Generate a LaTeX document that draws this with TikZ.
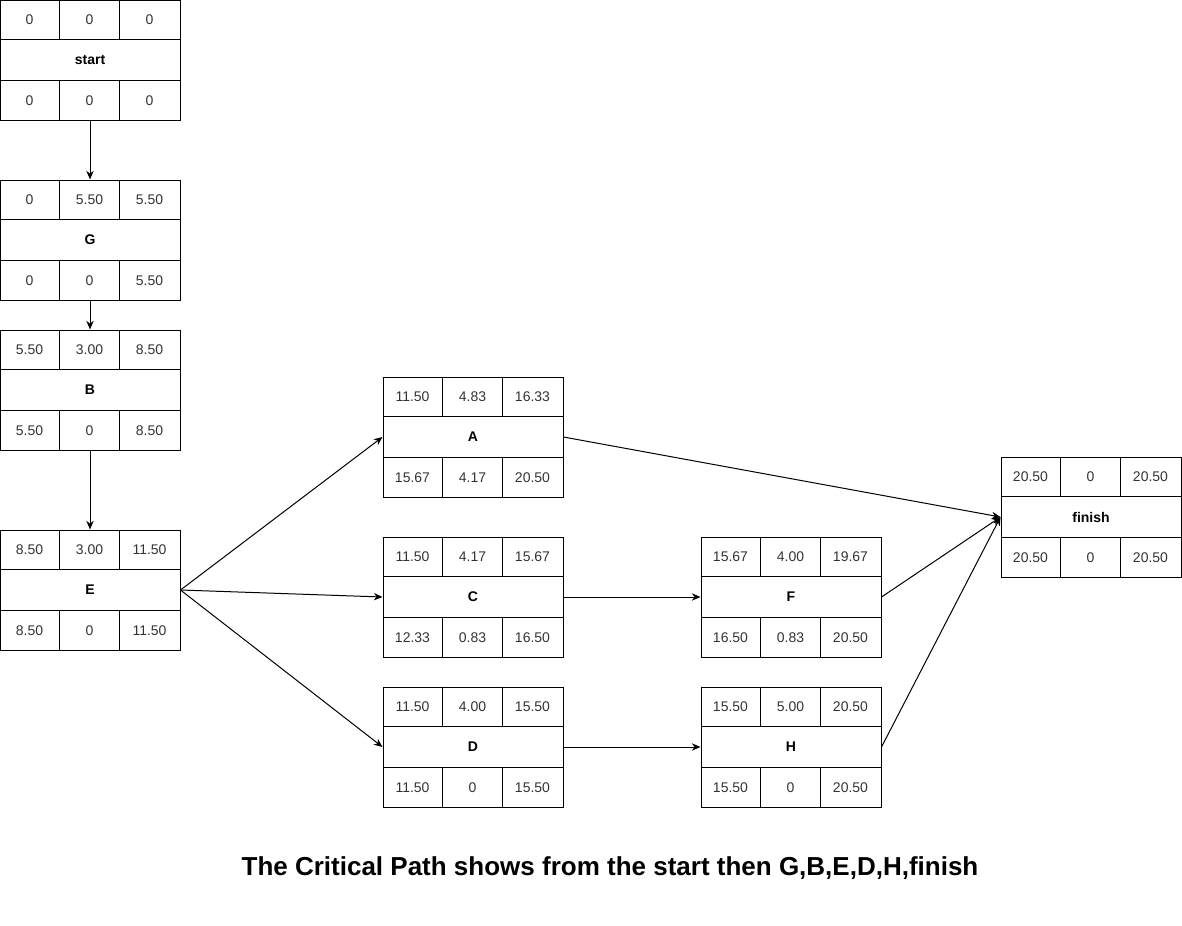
\documentclass[tikz,border=0pt]{standalone}
\usepackage{fontspec}
\setmainfont{Liberation Sans}
\usepackage{tikz}
\usetikzlibrary{arrows.meta,positioning,calc}

% one activity box: name, centre, label, top row, bottom row
\newcommand{\actbox}[5]{%
  \node[activity] (#1) at (#2) {\textbf{#3}};
  \draw ($(#1.north west)+(0,40)$) -- ($(#1.north east)+(0,40)$);
  \draw ($(#1.south west)+(0,-40)$) -- ($(#1.south east)+(0,-40)$);
  \foreach \cx in {60,120} {
    \draw ($(#1.north west)+(\cx,0)$) -- ($(#1.north west)+(\cx,40)$);
    \draw ($(#1.south west)+(\cx,0)$) -- ($(#1.south west)+(\cx,-40)$);
  }
  \foreach \v [count=\i] in {#4}
    \node[cell] at ($(#1.north west)+(60*\i-30,20)$) {\v};
  \foreach \v [count=\i] in {#5}
    \node[cell] at ($(#1.south west)+(60*\i-30,-20)$) {\v};
}

\begin{document}
\begin{tikzpicture}[x=0.75pt, y=-0.75pt, line width=0.75pt,
  activity/.style={rectangle,draw,minimum width=135pt,minimum height=90pt,inner sep=0pt,font=\fontsize{10.5}{12}\selectfont},
  cell/.style={inner sep=0pt,font=\fontsize{10.5}{12}\selectfont,text=black!80},
  link/.style={-{Stealth[length=6.5pt,width=5.5pt]}}]
\useasboundingbox (0,0) rectangle (1182,925);
\actbox{start}{90,60}{start}{0,0,0}{0,0,0}
\actbox{G}{90,240}{G}{0,5.50,5.50}{0,0,5.50}
\actbox{B}{90,390}{B}{5.50,3.00,8.50}{5.50,0,8.50}
\actbox{E}{90,590}{E}{8.50,3.00,11.50}{8.50,0,11.50}
\actbox{A}{473,437}{A}{11.50,4.83,16.33}{15.67,4.17,20.50}
\actbox{C}{473,597}{C}{11.50,4.17,15.67}{12.33,0.83,16.50}
\actbox{D}{473,747}{D}{11.50,4.00,15.50}{11.50,0,15.50}
\actbox{F}{791,597}{F}{15.67,4.00,19.67}{16.50,0.83,20.50}
\actbox{H}{791,747}{H}{15.50,5.00,20.50}{15.50,0,20.50}
\actbox{finish}{1091,517}{finish}{20.50,0,20.50}{20.50,0,20.50}
\draw[link] (start) -- (G);
\draw[link] (G) -- (B);
\draw[link] (B) -- (E);
\draw[link] (E.east) -- (A.west);
\draw[link] (E.east) -- (C.west);
\draw[link] (E.east) -- (D.west);
\draw[link] (C) -- (F);
\draw[link] (D) -- (H);
\draw[link] (A.east) -- (finish.west);
\draw[link] (F.east) -- (finish.west);
\draw[link] (H.east) -- (finish.west);
\node[font=\bfseries\fontsize{19.5}{23}\selectfont] (caption) at (610,868) {The Critical Path shows from the start then G,B,E,D,H,finish};
\end{tikzpicture}
\end{document}
